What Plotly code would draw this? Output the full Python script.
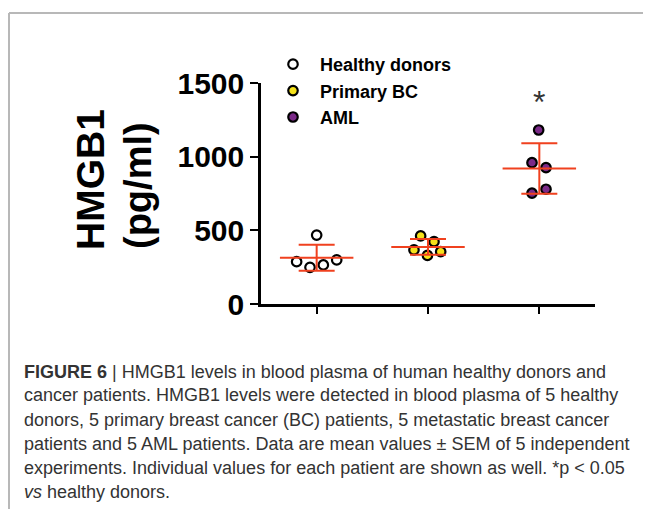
import numpy as np
import plotly.graph_objects as go

# ---- data ----
groups = ["Healthy donors", "Primary BC", "AML"]
healthy = [468, 287, 249, 265, 299]
primary_bc = [462, 423, 367, 330, 355]
aml = [1181, 959, 926, 752, 779]
values = [healthy, primary_bc, aml]
# horizontal placement of individual points within a group (category units)
jitter = [
    [0.0, -0.18, -0.06, 0.06, 0.18],
    [-0.066, 0.054, -0.126, -0.005, 0.114],
    [-0.006, -0.066, 0.06, -0.066, 0.06],
]
y_ticks = [0, 500, 1000, 1500]
fill_colors = ["#ffffff", "#f5e21a", "#7b2a88"]
red = "#f0411f"

OFF = 8  # page body margin
W, H = 651 - OFF, 509 - OFF
L, R, T, B = 261 - OFF, 595 - OFF, 83 - OFF, 304 - OFF


def px_x(p):
    return (p - OFF - L) / (R - L)


def px_y(p):
    return (B - (p - OFF)) / (B - T)


fig = go.Figure()

for i, (name, vals) in enumerate(zip(groups, values)):
    fig.add_trace(go.Scatter(
        x=[i + j for j in jitter[i]], y=vals, mode="markers", name=name,
        legendgroup=name,
        marker=dict(size=9.5, color=fill_colors[i], line=dict(color="black", width=2.2)),
        cliponaxis=False,
    ))

means = [float(np.mean(v)) for v in values]
sds = [float(np.std(v, ddof=1)) for v in values]
fig.add_trace(go.Scatter(
    x=list(range(len(groups))), y=means, mode="markers", showlegend=False,
    marker=dict(size=1, opacity=0),
    error_y=dict(type="data", array=sds, visible=True, color=red, thickness=2, width=18),
    error_x=dict(type="data", array=[0.33] * len(groups), visible=True, color=red, thickness=2, width=0),
))

font_b = "Arial, 'Liberation Sans', sans-serif"

fig.update_layout(
    width=W, height=H,
    margin=dict(l=L, r=W - R, t=T, b=H - B, pad=0),
    paper_bgcolor="white", plot_bgcolor="white",
    showlegend=True,
    legend=dict(
        x=px_x(266), y=px_y(46), xanchor="left", yanchor="top",
        font=dict(family=font_b, size=18, color="black", weight="bold"),
        traceorder="grouped", tracegroupgap=0, bgcolor="rgba(0,0,0,0)",
        itemwidth=44,
    ),
    xaxis=dict(
        range=[-0.5, 2.5], tickvals=[0, 1, 2], showticklabels=False,
        ticks="outside", ticklen=7, tickwidth=2, tickcolor="black",
        showline=True, linecolor="black", linewidth=2.5, showgrid=False, zeroline=False,
    ),
    yaxis=dict(
        range=[0, 1500], tickvals=y_ticks, ticktext=[str(t) for t in y_ticks],
        ticks="outside", ticklen=8, tickwidth=2, tickcolor="black",
        tickfont=dict(family=font_b, size=30, color="black", weight="bold"),
        showline=True, linecolor="black", linewidth=2.5, showgrid=False, zeroline=False,
    ),
)

annos = []
annos.append(dict(text="HMGB1", x=px_x(90), y=px_y(180), xref="paper", yref="paper",
                  xanchor="center", yanchor="middle",
                  showarrow=False, textangle=-90,
                  font=dict(family=font_b, size=39, color="black", weight="bold")))
annos.append(dict(text="(pg/ml)", x=px_x(138), y=px_y(186), xref="paper", yref="paper",
                  xanchor="center", yanchor="middle",
                  showarrow=False, textangle=-90,
                  font=dict(family=font_b, size=38, color="black", weight="bold")))
annos.append(dict(text="*", x=2, y=1370, xref="x", yref="y", showarrow=False,
                  font=dict(family=font_b, size=32, color="#333333")))

caption = [
    "<b>FIGURE 6</b> | HMGB1 levels in blood plasma of human healthy donors and",
    "cancer patients. HMGB1 levels were detected in blood plasma of 5 healthy",
    "donors, 5 primary breast cancer (BC) patients, 5 metastatic breast cancer",
    "patients and 5 AML patients. Data are mean values ± SEM of 5 independent",
    "experiments. Individual values for each patient are shown as well. *p < 0.05",
    "<i>vs</i> healthy donors.",
]
for k, line in enumerate(caption):
    annos.append(dict(text=line, x=px_x(22), y=px_y(371.5 + 24 * k), xref="paper", yref="paper",
                      xanchor="left", yanchor="middle", showarrow=False, align="left",
                      font=dict(family="'Liberation Sans', Arial, sans-serif", size=18, color="#333333")))
fig.update_layout(annotations=annos)

border = "#b8b8b8"
fig.add_shape(type="line", xref="paper", yref="paper", x0=px_x(9), x1=px_x(651), y0=px_y(13), y1=px_y(13),
              line=dict(color=border, width=2))
fig.add_shape(type="line", xref="paper", yref="paper", x0=px_x(9), x1=px_x(9), y0=px_y(13), y1=px_y(509),
              line=dict(color=border, width=2))

fig.write_html("out.html")
